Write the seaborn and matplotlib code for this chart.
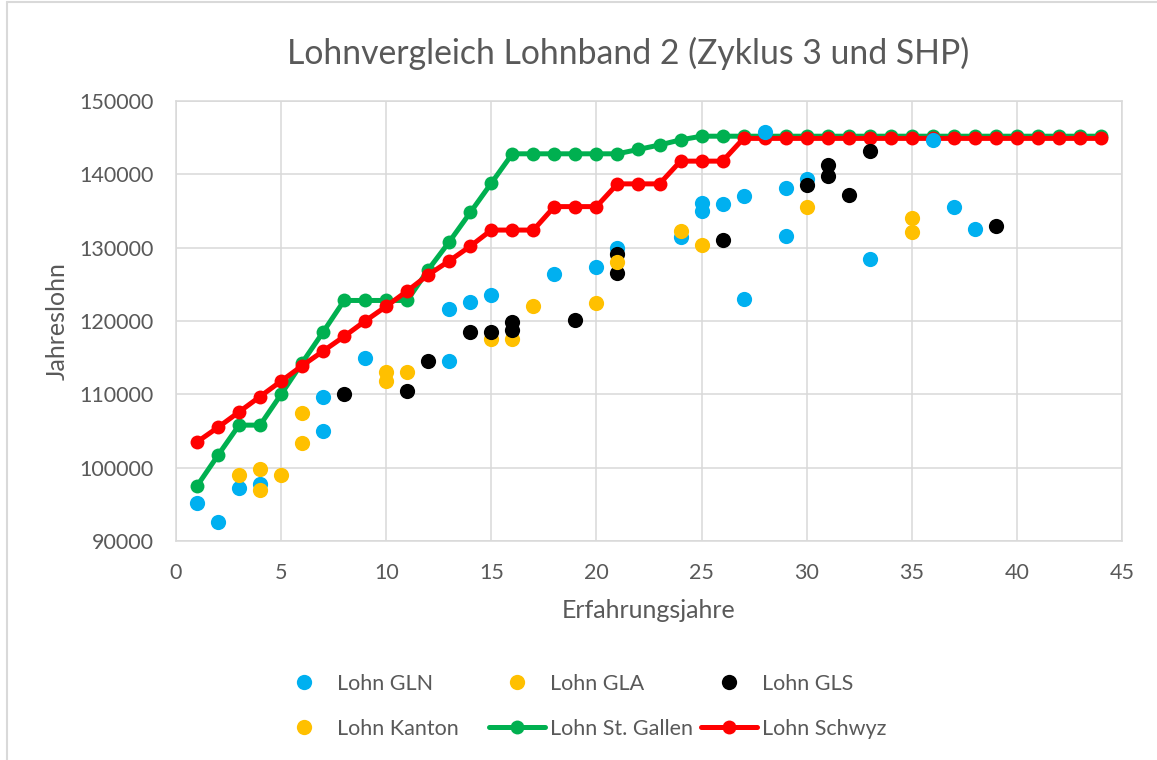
import numpy as np
import pandas as pd
import matplotlib
matplotlib.use("Agg")
import matplotlib.pyplot as plt
from matplotlib.lines import Line2D
import seaborn as sns

# experience years for the two salary scales
YEARS = list(range(1, 45))

LOHN_ST_GALLEN = [97500, 101700, 105800, 105800, 110000, 114300, 118500, 122800,
                  122800, 122800, 122800, 127000, 130800, 134800, 138800, 142800,
                  142800, 142800, 142800, 142800, 142800, 143400, 144000, 144700,
                  145200, 145200] + [145200] * 18
LOHN_SCHWYZ = [103500, 105500, 107600, 109700, 111800, 113900, 115900, 117900,
               120000, 122000, 124100, 126300, 128200, 130200, 132400, 132400,
               132400, 135600, 135600, 135600, 138700, 138700, 138700, 141800,
               141800, 141800] + [144900] * 18

# individual salaries (scatter series)
GLN_X = [1, 2, 3, 4, 7, 7, 9, 13, 13, 14, 15, 18, 20, 21, 24, 25, 25, 26, 27, 27,
         28, 29, 29, 30, 33, 36, 37, 38]
GLN_Y = [95200, 92600, 97200, 97800, 105000, 109700, 115000, 114500, 121600, 122600,
         123500, 126400, 127400, 129900, 131500, 136100, 135000, 136000, 137100, 123000,
         145800, 138100, 131600, 139300, 128400, 144700, 135600, 132600]

GLA_X = [3, 4, 4, 5, 6, 6, 10, 10, 11, 15, 16, 17, 20]
GLA_Y = [99000, 99800, 97000, 99000, 107500, 103300, 113000, 111800, 113000,
         117600, 117600, 122000, 122400]

GLS_X = [8, 11, 12, 14, 15, 16, 16, 19, 21, 21, 26, 30, 31, 31, 32, 33, 39]
GLS_Y = [110000, 110400, 114500, 118500, 118500, 119900, 118800, 120100, 129200,
         126500, 131000, 138500, 141300, 139800, 137200, 143200, 133000]

KANTON_X = [21, 24, 25, 30, 35, 35]
KANTON_Y = [128100, 132300, 130400, 135500, 134100, 132200]

X_TICKS = list(range(0, 50, 5))
Y_TICKS = list(range(90000, 160000, 10000))

BLUE, GOLD, BLACK = "#00B0F0", "#FFC000", "#000000"
GREEN, RED = "#00B050", "#FF0000"
TXT = "#595959"
GRID = "#D9D9D9"

sns.set_style("whitegrid", {"grid.color": GRID, "axes.edgecolor": GRID})
plt.rcParams["font.family"] = ["Lato", "DejaVu Sans"]

lines_df = pd.DataFrame({"Jahr": YEARS, "St. Gallen": LOHN_ST_GALLEN, "Schwyz": LOHN_SCHWYZ})

fig = plt.figure(figsize=(11.57, 7.60), dpi=100)
ax = fig.add_axes([176 / 1157, 1 - 541 / 760, (1122 - 176) / 1157, (541 - 101) / 760])

# salary scale lines
for col, c in [("St. Gallen", GREEN), ("Schwyz", RED)]:
    sns.lineplot(data=lines_df, x="Jahr", y=col, ax=ax, color=c, linewidth=3.6,
                 marker="o", markersize=10, markeredgecolor=c, markeredgewidth=0,
                 zorder=2)

# individual salaries on top
for xs, ys, c in [(GLN_X, GLN_Y, BLUE), (GLA_X, GLA_Y, GOLD),
                  (GLS_X, GLS_Y, BLACK), (KANTON_X, KANTON_Y, GOLD)]:
    sns.scatterplot(x=xs, y=ys, ax=ax, color=c, s=120, linewidth=0, zorder=3)

ax.set_xlim(0, 45)
ax.set_ylim(90000, 150000)
ax.set_xticks(X_TICKS)
ax.set_yticks(Y_TICKS)
ax.grid(True, color=GRID, linewidth=1.1)
for sp in ax.spines.values():
    sp.set_color(GRID)
    sp.set_linewidth(1.1)
ax.tick_params(axis="x", length=0, pad=16, labelsize=15.5, labelcolor=TXT)
ax.tick_params(axis="y", length=0, pad=16, labelsize=15.5, labelcolor=TXT)
ax.set_xlabel("")
ax.set_ylabel("")

fig.text(628 / 1157, 1 - 53 / 760, "Lohnvergleich Lohnband 2 (Zyklus 3 und SHP)",
         ha="center", va="center", fontsize=24.3, color=TXT)
fig.text(649 / 1157, 1 - 611 / 760, "Erfahrungsjahre", ha="center", va="center",
         fontsize=18, color=TXT)
fig.text(57 / 1157, 1 - 321 / 760, "Jahreslohn", ha="center", va="center",
         rotation=90, fontsize=18, color=TXT)

# chart area border (only left and top are inside the picture)
fig.add_artist(Line2D([7 / 1157, 7 / 1157], [0, 1 - 2 / 760], transform=fig.transFigure,
                      color=GRID, linewidth=1.5))
fig.add_artist(Line2D([7 / 1157, 1], [1 - 2 / 760, 1 - 2 / 760], transform=fig.transFigure,
                      color=GRID, linewidth=1.5))


def dot(c):
    return Line2D([], [], marker="o", linestyle="None", markersize=11,
                  markerfacecolor=c, markeredgewidth=0)


def linedot(c):
    return Line2D([], [], marker="o", color=c, linewidth=3.6, markersize=10,
                  markeredgewidth=0)


legend_cols = [
    ([dot(BLUE), dot(GOLD)], ["Lohn GLN", "Lohn Kanton"], 276),
    ([dot(GOLD), linedot(GREEN)], ["Lohn GLA", "Lohn St. Gallen"], 489),
    ([dot(BLACK), linedot(RED)], ["Lohn GLS", "Lohn Schwyz"], 701),
]
for handles, labels, xpx in legend_cols:
    fig.legend(handles=handles, labels=labels, loc="upper left",
               bbox_to_anchor=(xpx / 1157, 1 - 674 / 760), frameon=False,
               borderpad=0, borderaxespad=0, fontsize=15.5, labelcolor=TXT,
               handlelength=2.6, handletextpad=0.23, labelspacing=1.15,
               numpoints=1)

fig.savefig("out.png", dpi=100)
